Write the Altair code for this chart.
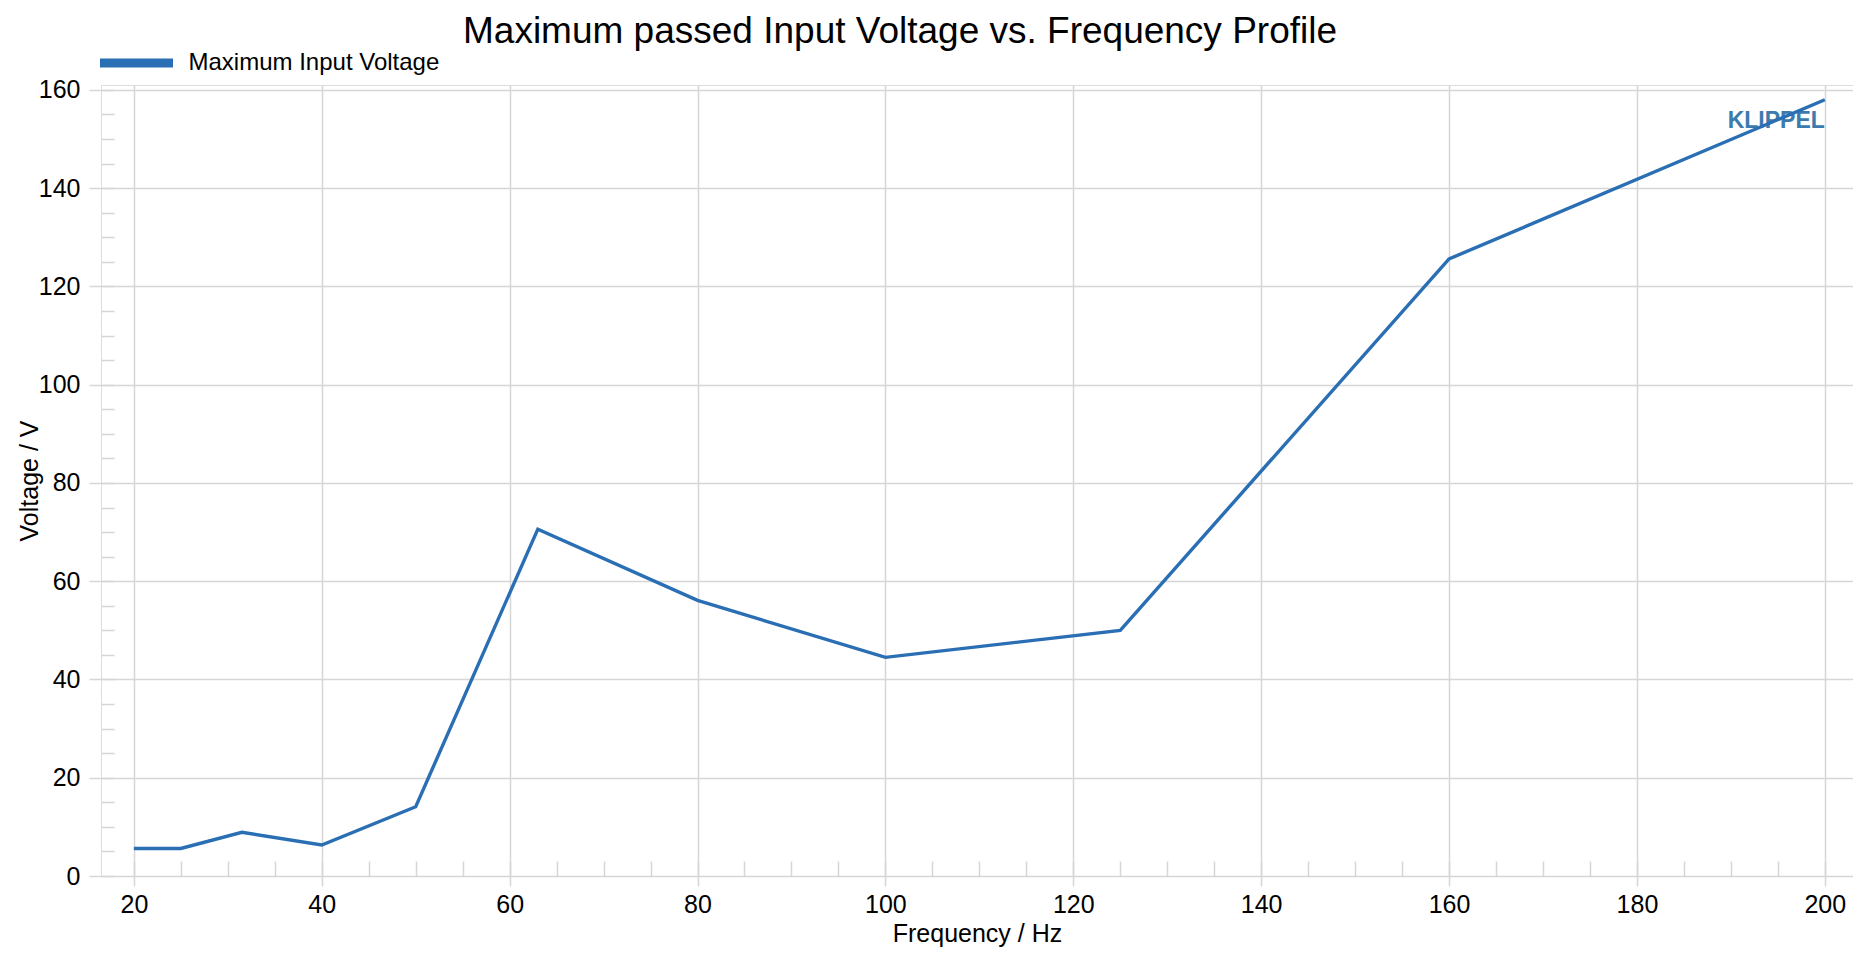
import altair as alt
import pandas as pd

# ---- data ----
freq = [20, 25, 31.5, 40, 50, 63, 80, 100, 125, 160, 200]
voltage = [5.6, 5.6, 8.9, 6.3, 14.1, 70.6, 56.1, 44.5, 50.0, 125.6, 158.0]
series_name = "Maximum Input Voltage"

x_major = [20, 40, 60, 80, 100, 120, 140, 160, 180, 200]
x_minor = list(range(20, 205, 5))
y_major = [0, 20, 40, 60, 80, 100, 120, 140, 160]
y_minor = list(range(0, 165, 5))

logo_text = ["KLIPPEL"]
logo_freq = [200]
logo_volt = [152.3]

title_text = "Maximum passed Input Voltage vs. Frequency Profile"
x_title = "Frequency / Hz"
y_title = "Voltage / V"

# ---- styling ----
FONT = "'Liberation Sans', Arial, sans-serif"
LINE = "#2a6eb4"
GRID = "#d6d6d6"
W, H = 1752, 791

df = pd.DataFrame({"Frequency": freq, "Voltage": voltage,
                   "Series": [series_name] * len(freq)})
logo_df = pd.DataFrame({"Frequency": logo_freq, "Voltage": logo_volt, "label": logo_text})

xscale = alt.Scale(domain=[16.5, 203], nice=False, zero=False)
yscale = alt.Scale(domain=[0, 161], nice=False, zero=False)

# minor ticks (inward) through extra axes
minor = alt.Chart(df).mark_line(opacity=0).encode(
    x=alt.X("Frequency:Q", scale=xscale,
            axis=alt.Axis(orient="top", offset=-H, values=x_minor, labels=False,
                          grid=False, domain=False, ticks=True, tickSize=15,
                          tickColor=GRID, tickWidth=1.5, title=None)),
    y=alt.Y("Voltage:Q", scale=yscale,
            axis=alt.Axis(orient="right", offset=-W, values=y_minor, labels=False,
                          grid=False, domain=False, ticks=True, tickSize=13,
                          tickColor=GRID, tickWidth=1.5, title=None)),
)

logo = alt.Chart(logo_df).mark_text(
    align="right", baseline="alphabetic", font=FONT, fontSize=23,
    fontWeight="bold", color="#3b7bad"
).encode(
    x=alt.X("Frequency:Q", scale=xscale, axis=None),
    y=alt.Y("Voltage:Q", scale=yscale, axis=None),
    text="label:N",
)

line = alt.Chart(df).mark_line(strokeWidth=3.4).encode(
    x=alt.X("Frequency:Q", scale=xscale,
            axis=alt.Axis(orient="bottom", title=x_title, values=x_major, grid=True,
                          gridColor=GRID, gridWidth=1.5, tickSize=10, tickColor=GRID,
                          tickWidth=1.5, labelFontSize=25, labelFont=FONT,
                          labelColor="black", labelPadding=6, labelFlush=False,
                          labelOverlap=False, titleFont=FONT, titleFontSize=25,
                          titleFontWeight="normal", titleColor="black", titleY=65,
                          titleBaseline="alphabetic", domain=False)),
    y=alt.Y("Voltage:Q", scale=yscale,
            axis=alt.Axis(orient="left", title=y_title, values=y_major, grid=True,
                          gridColor=GRID, gridWidth=1.5, tickSize=12, tickColor=GRID,
                          tickWidth=1.5, labelFontSize=25, labelFont=FONT,
                          labelColor="black", labelPadding=9, labelFlush=False,
                          labelOverlap=False, titleFont=FONT, titleFontSize=25,
                          titleFontWeight="normal", titleColor="black", titleX=-64,
                          titleBaseline="alphabetic", domain=False)),
    color=alt.Color("Series:N", scale=alt.Scale(range=[LINE]),
                    legend=alt.Legend(orient="none", legendX=-5.5, legendY=-63,
                                      title=None, symbolType="stroke", symbolSize=5329,
                                      symbolStrokeWidth=9, labelFontSize=24,
                                      labelFont=FONT, labelColor="black",
                                      labelLimit=600, labelOffset=11, padding=0)),
)

chart = alt.layer(minor, logo, line).resolve_axis(
    x="independent", y="independent"
).properties(
    width=W, height=H,
    autosize=alt.AutoSizeParams(type="none"),
    padding={"left": 93, "top": 77, "right": 0, "bottom": 71},
    title=alt.TitleParams(text=title_text, font=FONT, fontSize=37,
                          fontWeight="normal", color="black", anchor="middle",
                          frame="group", dx=-77, offset=0, dy=58,
                          baseline="alphabetic"),
).configure_view(stroke="#d0d0d0", strokeWidth=2).configure(background="white")

chart.save("out.html", embed_options={"renderer": "svg", "actions": False})
